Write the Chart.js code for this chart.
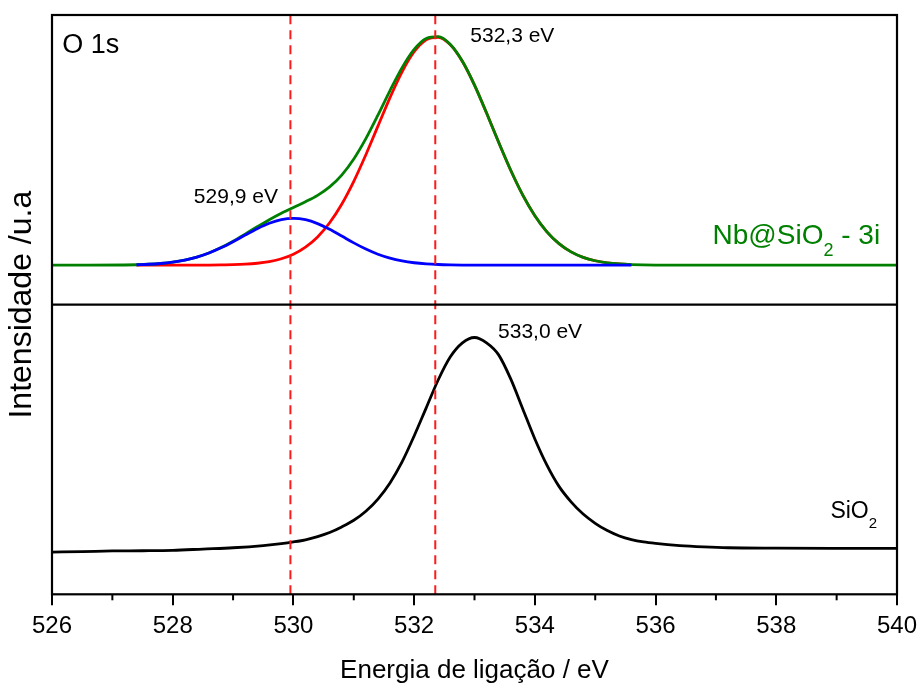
<!DOCTYPE html>
<html>
<head>
<meta charset="utf-8">
<script src="https://cdn.jsdelivr.net/npm/chart.js@4.4.0/dist/chart.umd.min.js"></script>
<style>
  html, body { margin: 0; padding: 0; background: #fff; }
</style>
</head>
<body>
<canvas id="xps" width="920" height="686"></canvas>
<script>
// Nb@SiO2 - 3i : componentes ajustadas (eV, intensidade normalizada)
const energyFit = [527.4, 527.6, 527.8, 528.0, 528.2, 528.4, 528.6, 528.8, 529.0, 529.2,
  529.4, 529.6, 529.8, 530.0, 530.2, 530.4, 530.6, 530.8, 531.0, 531.2,
  531.4, 531.6, 531.8, 532.0, 532.2, 532.4, 532.6, 532.8, 533.0, 533.2,
  533.4, 533.6, 533.8, 534.0, 534.2, 534.4, 534.6, 534.8, 535.0, 535.2,
  535.4, 535.6];
const peak5299 = [0.0019, 0.0039, 0.0073, 0.0130, 0.0220, 0.0351, 0.0531, 0.0759, 0.1028, 0.1318,
  0.1599, 0.1836, 0.1994, 0.2050, 0.1990, 0.1821, 0.1570, 0.1276, 0.0977, 0.0706,
  0.0480, 0.0308, 0.0186, 0.0106, 0.0057, 0.0029, 0.0014, 0.0006, 0.0003, 0.0001,
  0, 0, 0, 0, 0, 0, 0, 0, 0, 0,
  0, 0];
const peak5323 = [0, 0, 0, 0, 0.0001, 0.0002, 0.0004, 0.0010, 0.0021, 0.0043,
  0.0084, 0.0157, 0.0281, 0.0481, 0.0789, 0.1238, 0.1858, 0.2671, 0.3674, 0.4836,
  0.6090, 0.7341, 0.8469, 0.9349, 0.9877, 0.9986, 0.9655, 0.8925, 0.7887, 0.6664,
  0.5383, 0.4157, 0.3069, 0.2167, 0.1462, 0.0943, 0.0582, 0.0343, 0.0193, 0.0104,
  0.0054, 0.0026];

// envelope (soma)
const energyTotal = [526.0, 526.6, 527.2, 527.4, 527.6, 527.8, 528.0, 528.2, 528.4, 528.6,
  528.8, 529.0, 529.2, 529.4, 529.6, 529.8, 530.0, 530.2, 530.4, 530.6,
  530.8, 531.0, 531.2, 531.4, 531.6, 531.8, 532.0, 532.2, 532.4, 532.6,
  532.8, 533.0, 533.2, 533.4, 533.6, 533.8, 534.0, 534.2, 534.4, 534.6,
  534.8, 535.0, 535.2, 535.4, 535.6, 536.0, 537.0, 538.0, 539.0, 540.0];
const envelope = [0, 0, 0.0008, 0.0019, 0.0039, 0.0073, 0.0130, 0.0221, 0.0353, 0.0535,
  0.0769, 0.1049, 0.1361, 0.1683, 0.1993, 0.2275, 0.2531, 0.2779, 0.3059, 0.3428,
  0.3947, 0.4651, 0.5542, 0.6570, 0.7649, 0.8655, 0.9455, 0.9934, 1.0015, 0.9669,
  0.8931, 0.7890, 0.6665, 0.5383, 0.4157, 0.3069, 0.2167, 0.1462, 0.0943, 0.0582,
  0.0343, 0.0193, 0.0104, 0.0054, 0.0026, 0.0005, 0, 0, 0, 0];

// SiO2
const energySiO2 = [526.0, 526.5, 527.0, 527.5, 528.0, 528.5, 529.0, 529.5, 529.8, 530.0,
  530.2, 530.4, 530.6, 530.8, 531.0, 531.2, 531.4, 531.6, 531.8, 532.0,
  532.2, 532.4, 532.6, 532.8, 533.0, 533.2, 533.4, 533.6, 533.8, 534.0,
  534.2, 534.4, 534.6, 534.8, 535.0, 535.2, 535.4, 535.6, 535.8, 536.0,
  536.4, 536.8, 537.2, 538.0, 539.0, 540.0];
const sio2 = [0, 0.002, 0.005, 0.006, 0.008, 0.014, 0.020, 0.030, 0.039, 0.047,
  0.057, 0.072, 0.091, 0.117, 0.148, 0.190, 0.247, 0.322, 0.420, 0.541,
  0.672, 0.803, 0.910, 0.975, 1.000, 0.975, 0.919, 0.807, 0.667, 0.527,
  0.405, 0.306, 0.234, 0.177, 0.134, 0.100, 0.075, 0.058, 0.047, 0.040,
  0.030, 0.024, 0.020, 0.018, 0.017, 0.017];

// linhas tracejadas nas posições dos picos
const markerEnergies = [529.95, 532.35];
const xTicks = [526, 528, 530, 532, 534, 536, 538, 540];

const FONT = "Arial, 'Liberation Sans', sans-serif";
const toXY = (xs, ys) => xs.map((x, i) => ({ x: x, y: ys[i] }));

// textos dentro do gráfico (posição em coordenadas dos eixos)
const notes = [
  { text: 'O 1s', x: 526.17, y: 0.929, axis: 'yTop', size: 27, color: '#000', align: 'left' },
  { text: '532,3 eV', x: 532.93, y: 0.977, axis: 'yTop', size: 21, color: '#000', align: 'left' },
  { text: '529,9 eV', x: 528.35, y: 0.271, axis: 'yTop', size: 21, color: '#000', align: 'left' },
  { text: '533,0 eV', x: 533.39, y: 0.997, axis: 'yBot', size: 21, color: '#000', align: 'left' },
  { text: 'Nb@SiO', sub: '2', tail: ' - 3i', x: 539.72, y: 0.094, axis: 'yTop', size: 28, color: '#008000', align: 'right' },
  { text: 'SiO', sub: '2', tail: '', x: 539.67, y: 0.159, axis: 'yBot', size: 23, color: '#000', align: 'right' }
];

const framePlugin = {
  id: 'frame',
  afterDraw(chart) {
    const { ctx, chartArea: a, scales } = chart;
    ctx.save();
    ctx.strokeStyle = '#000';
    ctx.lineWidth = 2.2;
    ctx.strokeRect(a.left, a.top, a.right - a.left, a.bottom - a.top);
    // divisão entre os dois painéis
    const ySplit = scales.yFull.getPixelForValue(0.5);
    ctx.beginPath();
    ctx.moveTo(a.left, ySplit);
    ctx.lineTo(a.right, ySplit);
    ctx.stroke();
    // ticks menores
    ctx.lineWidth = 2;
    for (let v = 527; v < 540; v += 2) {
      const x = scales.x.getPixelForValue(v);
      ctx.beginPath();
      ctx.moveTo(x, a.bottom);
      ctx.lineTo(x, a.bottom + 6);
      ctx.stroke();
    }
    // anotações
    ctx.textBaseline = 'alphabetic';
    notes.forEach(n => {
      const px = scales.x.getPixelForValue(n.x);
      const py = scales[n.axis].getPixelForValue(n.y);
      const mainFont = n.size + 'px ' + FONT;
      const subFont = Math.round(n.size * 0.64) + 'px ' + FONT;
      ctx.fillStyle = n.color;
      ctx.font = mainFont;
      const w1 = ctx.measureText(n.text).width;
      let w2 = 0, w3 = 0;
      if (n.sub) {
        ctx.font = subFont;
        w2 = ctx.measureText(n.sub).width;
        ctx.font = mainFont;
        w3 = ctx.measureText(n.tail).width;
      }
      let x0 = n.align === 'right' ? px - (w1 + w2 + w3) : px;
      ctx.textAlign = 'left';
      ctx.font = mainFont;
      ctx.fillText(n.text, x0, py);
      if (n.sub) {
        ctx.font = subFont;
        ctx.fillText(n.sub, x0 + w1, py + n.size * 0.44);
        ctx.font = mainFont;
        ctx.fillText(n.tail, x0 + w1 + w2, py);
      }
    });
    ctx.restore();
  }
};

const markerSets = markerEnergies.map(e => ({
  data: [{ x: e, y: 0 }, { x: e, y: 1 }],
  yAxisID: 'yFull',
  borderColor: '#ff1a1a',
  borderWidth: 2,
  borderDash: [9, 6],
  cubicInterpolationMode: 'default',
  tension: 0
}));

new Chart(document.getElementById('xps'), {
  type: 'line',
  data: {
    datasets: [
      ...markerSets,
      { label: '529,9 eV', data: toXY(energyFit, peak5299), yAxisID: 'yTop', borderColor: '#0000ff', borderWidth: 2.8 },
      { label: 'Nb@SiO2 - 3i', data: toXY(energyTotal, envelope), yAxisID: 'yTop', borderColor: '#008000', borderWidth: 2.8 },
      { label: '532,3 eV', data: toXY(energyFit, peak5323), yAxisID: 'yTop', borderColor: '#ff0000', borderWidth: 2.8 },
      { label: 'SiO2', data: toXY(energySiO2, sio2), yAxisID: 'yBot', borderColor: '#000000', borderWidth: 2.8 }
    ]
  },
  options: {
    responsive: false,
    animation: false,
    devicePixelRatio: 1,
    layout: { padding: { top: 15, right: 23, left: 0, bottom: 0 } },
    plugins: { legend: { display: false }, tooltip: { enabled: false } },
    elements: {
      point: { radius: 0 },
      line: { cubicInterpolationMode: 'monotone', borderCapStyle: 'butt', borderJoinStyle: 'round', fill: false }
    },
    scales: {
      x: {
        type: 'linear', position: 'bottom', min: 526, max: 540,
        afterBuildTicks: s => { s.ticks = xTicks.map(v => ({ value: v })); },
        afterFit: s => { s.paddingRight = 20; },
        ticks: { font: { family: FONT, size: 24 }, color: '#000', padding: 7, maxRotation: 0 },
        grid: { display: true, drawOnChartArea: false, drawTicks: true, tickLength: 11, color: '#000', lineWidth: 2 },
        border: { display: false },
        title: { display: true, text: 'Energia de ligação / eV', color: '#000',
                 font: { family: FONT, size: 26 }, padding: { top: 6.7, bottom: 0 } }
      },
      yFull: {
        type: 'linear', position: 'left', min: 0, max: 1,
        ticks: { display: false },
        grid: { display: false, drawTicks: false },
        border: { display: false },
        title: { display: true, text: 'Intensidade /u.a', color: '#000',
                 font: { family: FONT, size: 32 }, padding: { top: 3, bottom: 10.6 } }
      },
      yTop: { type: 'linear', display: false, min: -1.442, max: 1.096 },
      yBot: { type: 'linear', display: false, min: -0.197, max: 2.503 }
    }
  },
  plugins: [framePlugin]
});
</script>
</body>
</html>
